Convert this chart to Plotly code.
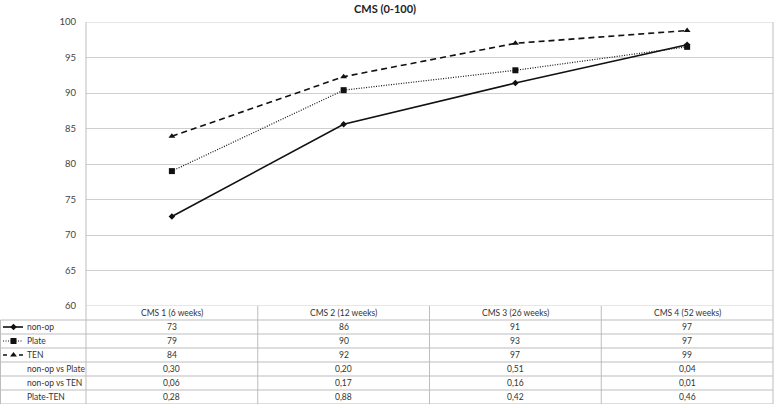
import plotly.graph_objects as go

# ---------------- data ----------------
categories = ["CMS 1 (6 weeks)", "CMS 2 (12 weeks)", "CMS 3 (26 weeks)", "CMS 4 (52 weeks)"]
series_names = ["non-op", "Plate", "TEN"]
nonop = [72.6, 85.6, 91.4, 96.8]
plate = [79.0, 90.4, 93.2, 96.5]
ten = [83.9, 92.3, 97.0, 98.8]

table_nonop = ["73", "86", "91", "97"]
table_plate = ["79", "90", "93", "97"]
table_ten = ["84", "92", "97", "99"]
pval_labels = ["non-op vs Plate", "non-op vs TEN", "Plate-TEN"]
p_nonop_plate = ["0,30", "0,20", "0,51", "0,04"]
p_nonop_ten = ["0,06", "0,17", "0,16", "0,01"]
p_plate_ten = ["0,28", "0,88", "0,42", "0,46"]

title_text = "CMS (0-100)"
y_ticks = [60, 65, 70, 75, 80, 85, 90, 95, 100]

# ---------------- layout geometry ----------------
W, H = 778, 408
MT, MB = 22, 4
plot_h = H - MT - MB
left_px, right_px = 86, 773
table_rows = 7
row_px = 14
table_frac = table_rows * row_px / plot_h
xl = left_px / W
xr = right_px / W

FONT = "Lato"
GRID = "#cfcfcf"
BORDER = "#bdbdbd"
TXT = "#333333"

styles = {
    "non-op": dict(dash="solid", width=1.6, symbol="diamond", size=5),
    "Plate": dict(dash="1px,1.5px", width=1.2, symbol="square", size=6),
    "TEN": dict(dash="6px,4px", width=1.6, symbol="triangle-up", size=6),
}

fig = go.Figure()
for name, vals in zip(series_names, [nonop, plate, ten]):
    s = styles[name]
    fig.add_trace(go.Scatter(
        x=categories, y=vals, mode="lines+markers", name=name,
        line=dict(color="#111111", width=s["width"], dash=s["dash"]),
        marker=dict(symbol=s["symbol"], size=s["size"], color="#111111"),
        xaxis="x", yaxis="y", showlegend=False,
    ))

# legend keys inside the table's label column
key_dash = {"non-op": "solid", "Plate": "1px,1.5px", "TEN": "4px,12px"}
for i, name in enumerate(series_names):
    s = styles[name]
    yrow = i + 1.5
    fig.add_trace(go.Scatter(
        x=[3, 23], y=[yrow, yrow], mode="lines",
        line=dict(color="#111111", width=s["width"], dash=key_dash[name]),
        xaxis="x3", yaxis="y2", showlegend=False, hoverinfo="skip",
    ))
    fig.add_trace(go.Scatter(
        x=[13.5], y=[yrow], mode="markers",
        marker=dict(symbol=s["symbol"], size=s["size"], color="#111111"),
        xaxis="x3", yaxis="y2", showlegend=False, hoverinfo="skip",
    ))

annotations = []
# title
annotations.append(dict(text="<b>" + title_text + "</b>", x=384.5 / W, y=1, xref="paper", yref="paper",
                        yshift=14, showarrow=False, font=dict(family=FONT, size=11, color="#222222"),
                        xanchor="center", yanchor="middle"))

# table header
for c in categories:
    annotations.append(dict(text=c, x=c, y=0.5, xref="x", yref="y2", showarrow=False,
                            font=dict(family=FONT, size=8.5, color=TXT)))
# table body
rows = [table_nonop, table_plate, table_ten, p_nonop_plate, p_nonop_ten, p_plate_ten]
labels = series_names + pval_labels
for r, (lab, vals) in enumerate(zip(labels, rows)):
    yrow = r + 1.5
    annotations.append(dict(text=lab, x=25, y=yrow, xref="x3", yref="y2", showarrow=False,
                            xanchor="left", font=dict(family=FONT, size=8.5, color=TXT)))
    for c, v in zip(categories, vals):
        annotations.append(dict(text=v, x=c, y=yrow, xref="x", yref="y2", showarrow=False,
                                font=dict(family=FONT, size=8.5, color=TXT)))

shapes = []
# horizontal table lines
for r in range(1, table_rows + 1):
    shapes.append(dict(type="line", xref="paper", yref="y2", x0=0.5 / W, x1=xr, y0=r, y1=r,
                       line=dict(color=BORDER, width=1)))
# left table border
shapes.append(dict(type="line", xref="paper", yref="y2", x0=0.5 / W, x1=0.5 / W, y0=1, y1=table_rows,
                   line=dict(color=BORDER, width=1)))
# column dividers
for b in [0.5, 1.5, 2.5]:
    shapes.append(dict(type="line", xref="x", yref="y2", x0=b, x1=b, y0=0, y1=table_rows,
                       line=dict(color=BORDER, width=1)))
# left and right verticals through whole chart+table
for xp in [xl, xr]:
    shapes.append(dict(type="line", xref="paper", yref="paper", x0=xp, x1=xp, y0=0, y1=1,
                       line=dict(color=BORDER, width=1)))
# top border and 60 line
shapes.append(dict(type="line", xref="paper", yref="y", x0=xl, x1=xr, y0=100, y1=100,
                   line=dict(color=GRID, width=1)))
shapes.append(dict(type="line", xref="paper", yref="y", x0=xl, x1=xr, y0=60, y1=60,
                   line=dict(color=GRID, width=1)))

fig.update_layout(
    width=W, height=H,
    margin=dict(l=0, r=0, t=MT, b=MB),
    paper_bgcolor="white", plot_bgcolor="white",
    xaxis=dict(domain=[xl, xr], type="category", categoryorder="array", categoryarray=categories,
               range=[-0.5, 3.5], showticklabels=False, showgrid=False, zeroline=False,
               anchor="y", ticks=""),
    yaxis=dict(domain=[table_frac, 1], range=[60, 100], tickvals=y_ticks,
               showgrid=True, gridcolor=GRID, gridwidth=1, zeroline=False,
               ticks="", ticklabelstandoff=9,
               tickfont=dict(family=FONT, size=9.5, color="#444444"), anchor="x"),
    yaxis2=dict(domain=[0, table_frac], range=[table_rows, 0], showticklabels=False,
                showgrid=False, zeroline=False, anchor="x"),
    xaxis3=dict(domain=[0, xl], range=[0, left_px], showticklabels=False, showgrid=False,
                zeroline=False, anchor="y2"),
    annotations=annotations,
    shapes=shapes,
)

fig.write_html("out.html", config={"displayModeBar": False},
               post_script="document.body.style.margin='0';document.body.style.overflow='hidden';")
